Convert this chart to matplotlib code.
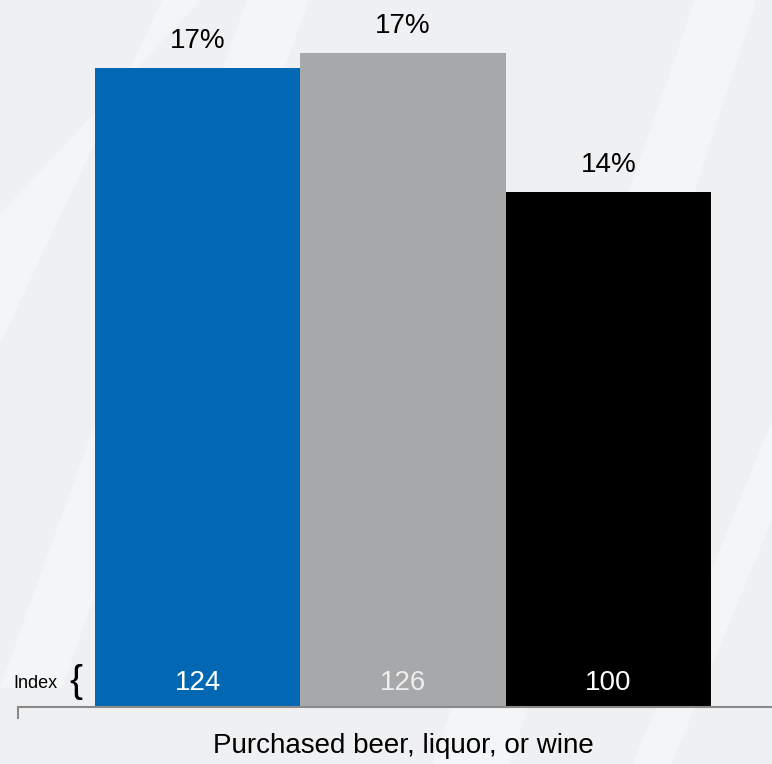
import matplotlib
matplotlib.use("Agg")
import matplotlib.pyplot as plt
from matplotlib.patches import Polygon
from matplotlib import font_manager

# Data
segments = ["Segment A", "Segment B", "Total"]
shares = [17.0, 17.4, 13.7]          # percent purchasing
index_values = [124, 126, 100]       # index vs. total
category = "Purchased beer, liquor, or wine"
bar_colors = ["#0268b4", "#a7a8aa", "#000000"]
index_colors = ["white", "#eeeeee", "white"]

names = {f.name for f in font_manager.fontManager.ttflist}
family = ["Liberation Sans Narrow", "Liberation Sans", "DejaVu Sans"]
family = [f for f in family if f in names] or ["DejaVu Sans"]
plt.rcParams["font.family"] = family

W, H = 772, 764
fig = plt.figure(figsize=(W / 100, H / 100), dpi=100)
fig.patch.set_facecolor("#eff0f2")

# background layer with soft diagonal light bands
bg = fig.add_axes([0, 0, 1, 1], zorder=-5)
bg.set_xlim(0, 1)
bg.set_ylim(0, 1)
bg.axis("off")
bands = [
    [(0.0, 0.10), (0.08, 0.10), (0.40, 1.0), (0.32, 1.0)],
    [(0.0, 0.55), (0.0, 0.72), (0.26, 1.0), (0.21, 1.0)],
    [(0.56, 0.0), (0.66, 0.0), (0.98, 1.0), (0.90, 1.0)],
    [(0.82, 0.0), (0.87, 0.0), (1.0, 0.32), (1.0, 0.45)],
]
for b in bands:
    bg.add_patch(Polygon(b, closed=True, facecolor="white", alpha=0.35,
                         edgecolor="none"))

# main axes spans the full height down to the baseline
base_px = 707
ax = fig.add_axes([18 / W, (H - base_px) / H, (W - 18) / W, base_px / H])
ax.set_facecolor("none")

x = list(range(len(shares)))
ax.bar(x, shares, width=1.0, color=bar_colors, zorder=2)
ax.set_xlim(-0.5 - 77 / 205.3, 2.5 + 61 / 205.3)
ax.set_ylim(0, 18.81)

for xi, v in zip(x, shares):
    ax.annotate(f"{v:.0f}%", (xi, v), xytext=(0, 10), textcoords="offset points",
                ha="center", va="bottom", fontsize=20, color="black")

for xi, idx, c in zip(x, index_values, index_colors):
    ax.annotate(f"{idx}", (xi, 0), xytext=(0, 17), textcoords="offset points",
                ha="center", va="center", fontsize=20, color=c, zorder=3)

for s in ["top", "right", "left"]:
    ax.spines[s].set_visible(False)
ax.spines["bottom"].set_color("#8a8a8a")
ax.spines["bottom"].set_linewidth(1.5)
ax.set_yticks([])
ax.set_xticks([])
ax.plot([ax.get_xlim()[0]] * 2, [0, -0.3], color="#8a8a8a", lw=1.5,
        clip_on=False, zorder=3)

fig.text(403 / W, 1 - 746 / H, category, ha="center", va="center",
         fontsize=20, color="black")

fig.text(13 / W, 1 - 683 / H, "Index", ha="left", va="center", fontsize=13)
fig.text(76 / W, 1 - 682 / H, "{", ha="center", va="center", fontsize=28,
         color="black", fontweight="light")

fig.savefig("out.png", dpi=100, facecolor=fig.get_facecolor())
